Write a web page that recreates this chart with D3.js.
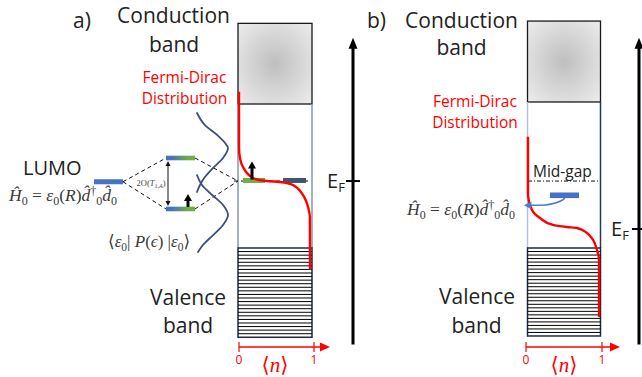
<!DOCTYPE html>
<html><head><meta charset="utf-8">
<script src="https://cdn.jsdelivr.net/npm/d3@7"></script>
<style>html,body{margin:0;padding:0;background:#fff;} svg{display:block;}</style>
</head><body>
<script>
// Energies are in units of the band gap: valence-band top = 0, conduction-band bottom = 1
const boxRangeA = [-0.62, 1.56];        // energy window of the band box, panel a
const boxRangeB = [-0.611, 1.576];      // energy window of the band box, panel b
const conductionBottom = [1, 1.014];    // conduction-band edge as drawn in a, b
const valenceTop = [0, 0];
const fermiLevel = [0.465, 0.132];      // E_F in panels a and b
const lumoLevel = 0.46;                 // bare LUMO, eps0(R)
const splitLevels = [0.625, 0.271];     // levels split by 2O(T_1,A)
const edgeLevelA = 0.469;               // pinned levels at E_F inside panel a
const midGapLevel = 0.465;
const defectLevelB = 0.366;
const energyAxisRange = [-0.67, 1.46];
const occupationTicks = [0, 1];
const valenceLineCount = 24;

// Fermi-Dirac occupation <n> against energy: [E, n]
const fermiCurveA = [[1.085, 0], [0.703, 0], [0.62, 0.015], [0.5625, 0.053], [0.486, 0.187],
  [0.465, 0.373], [0.458, 0.547], [0.4375, 0.72], [0.368, 0.853], [0.285, 0.92],
  [0.215, 0.945], [-0.153, 0.947]];
const fermiCurveB = [[0.773, 0.026], [0.382, 0.026], [0.264, 0.079], [0.208, 0.184],
  [0.16, 0.355], [0.146, 0.539], [0.139, 0.671], [0.104, 0.803], [0.056, 0.882],
  [-0.014, 0.934], [-0.083, 0.961], [-0.479, 0.961]];

// Projected density <eps0|P(eps)|eps0>, two lobes: [E, relative weight]
const lobeUpper = [[0.9375, 0.06], [0.854, 0.3], [0.785, 0.67], [0.729, 0.91], [0.694, 1],
  [0.625, 0.85], [0.556, 0.55], [0.493, 0.3], [0.4375, 0.15], [0.389, 0.06]];
const lobeLower = [[0.507, 0.06], [0.4375, 0.21], [0.368, 0.52], [0.299, 0.85], [0.229, 1],
  [0.16, 0.85], [0.09, 0.55], [0.021, 0.24], [-0.028, 0.09]];

const W = 642, H = 377;
const svg = d3.select("body").append("svg").attr("width", W).attr("height", H);
svg.append("rect").attr("width", W).attr("height", H).attr("fill", "#fff");

const yE = d3.scaleLinear().domain([0, 1]).range([248, 104]);
const xnA = d3.scaleLinear().domain([0, 1]).range([239, 314]);
const xnB = d3.scaleLinear().domain([0, 1]).range([526, 602]);
const xP = d3.scaleLinear().domain([0, 1]).range([195, 228]);

const SANS = "'Open Sans', 'Noto Sans', sans-serif";
const SERIF = "'Liberation Serif', 'DejaVu Serif', serif";
const INK = "#222";
const RED = "#ff0000";
const BLUE = "#4472c4";
const GREEN = "#70ad47";

const defs = svg.append("defs");
const rg = defs.append("radialGradient").attr("id", "cb").attr("cx", "50%").attr("cy", "50%").attr("r", "70%");
rg.append("stop").attr("offset", "0%").attr("stop-color", "#bfbfbf");
rg.append("stop").attr("offset", "100%").attr("stop-color", "#ececec");
const lg = defs.append("linearGradient").attr("id", "split").attr("x1", "0%").attr("x2", "100%");
lg.append("stop").attr("offset", "20%").attr("stop-color", BLUE);
lg.append("stop").attr("offset", "75%").attr("stop-color", GREEN);

// ---- band boxes ----
function bandBox(x0, x1, range, vb, cb, gapLeft, gapRight) {
  const g = svg.append("g");
  g.append("rect").attr("x", x0).attr("y", yE(range[1]))
    .attr("width", x1 - x0).attr("height", yE(cb) - yE(range[1]))
    .attr("fill", "url(#cb)").attr("stroke", "#1a1a1a").attr("stroke-width", 1.3);
  g.append("line").attr("x1", x0).attr("x2", x0).attr("y1", yE(cb)).attr("y2", yE(vb))
    .attr("stroke", gapLeft).attr("stroke-width", 1.5);
  g.append("line").attr("x1", x1).attr("x2", x1).attr("y1", yE(cb)).attr("y2", yE(vb))
    .attr("stroke", gapRight).attr("stroke-width", 1.5);
  const yt = yE(vb), yb = yE(range[0]);
  g.append("rect").attr("x", x0).attr("y", yt).attr("width", x1 - x0).attr("height", yb - yt)
    .attr("fill", "#fff").attr("stroke", "#1f2a44").attr("stroke-width", 1.5);
  const step = (yb - yt) / (valenceLineCount + 1);
  g.selectAll("line.vl").data(d3.range(1, valenceLineCount + 1)).join("line")
    .attr("x1", x0).attr("x2", x1)
    .attr("y1", i => yt + i * step).attr("y2", i => yt + i * step)
    .attr("stroke", "#000").attr("stroke-width", 1);
}
bandBox(238, 312, boxRangeA, valenceTop[0], conductionBottom[0], "#8497b0", "#8497b0");
bandBox(527.5, 600.5, boxRangeB, valenceTop[1], conductionBottom[1], "#b4c2d8", "#203864");

// ---- helpers ----
function text(x, y, str, opts = {}) {
  return svg.append("text").attr("x", x).attr("y", y).text(str)
    .attr("font-family", opts.family || SANS).attr("font-size", opts.size || 21)
    .attr("fill", opts.fill || INK).attr("text-anchor", opts.anchor || "start")
    .attr("font-style", opts.style || "normal");
}
function vArrow(x, yBase, yTip, shaft, headW, headL, color) {
  const dir = yTip < yBase ? 1 : -1;
  svg.append("line").attr("x1", x).attr("x2", x).attr("y1", yBase).attr("y2", yTip + dir * headL * 0.8)
    .attr("stroke", color).attr("stroke-width", shaft);
  svg.append("path").attr("d", `M${x},${yTip} L${x - headW / 2},${yTip + dir * headL} L${x + headW / 2},${yTip + dir * headL} Z`)
    .attr("fill", color);
}
function hArrowRight(x0, xTip, y, color) {
  svg.append("line").attr("x1", x0).attr("x2", xTip - 6).attr("y1", y).attr("y2", y)
    .attr("stroke", color).attr("stroke-width", 1.3);
  svg.append("path").attr("d", `M${xTip},${y} L${xTip - 10},${y - 4.5} L${xTip - 10},${y + 4.5} Z`).attr("fill", color);
}

// ---- panel a: level scheme ----
const dash = "4,3";
const lumoX = [94, 123], splitX = [166, 195], meetX = 238;
[splitLevels[0], splitLevels[1]].forEach(E => {
  svg.append("line").attr("x1", lumoX[1]).attr("y1", yE(lumoLevel)).attr("x2", splitX[0]).attr("y2", yE(E))
    .attr("stroke", "#111").attr("stroke-width", 1).attr("stroke-dasharray", dash);
  svg.append("line").attr("x1", splitX[1]).attr("y1", yE(E)).attr("x2", meetX).attr("y2", yE(fermiLevel[0]))
    .attr("stroke", "#111").attr("stroke-width", 1).attr("stroke-dasharray", dash);
});
svg.append("line").attr("x1", 234).attr("x2", 311).attr("y1", yE(fermiLevel[0])).attr("y2", yE(fermiLevel[0]))
  .attr("stroke", "#111").attr("stroke-width", 1).attr("stroke-dasharray", dash);

svg.append("rect").attr("x", lumoX[0]).attr("y", yE(lumoLevel) - 2.5).attr("width", lumoX[1] - lumoX[0]).attr("height", 5)
  .attr("fill", BLUE);
splitLevels.forEach(E => {
  svg.append("rect").attr("x", splitX[0]).attr("y", yE(E) - 2.3).attr("width", splitX[1] - splitX[0]).attr("height", 4.6)
    .attr("fill", "url(#split)");
});

// splitting double arrow and label
{
  const x = 168, yTop = yE(splitLevels[0]) + 3, yBot = yE(splitLevels[1]) - 3;
  svg.append("line").attr("x1", x).attr("x2", x).attr("y1", yTop + 4).attr("y2", yBot - 4)
    .attr("stroke", "#111").attr("stroke-width", 1);
  svg.append("path").attr("d", `M${x},${yTop} L${x - 2.5},${yTop + 5} L${x + 2.5},${yTop + 5} Z`).attr("fill", "#111");
  svg.append("path").attr("d", `M${x},${yBot} L${x - 2.5},${yBot - 5} L${x + 2.5},${yBot - 5} Z`).attr("fill", "#111");
  const t = svg.append("text").attr("x", 165.5).attr("y", 186).attr("text-anchor", "end")
    .attr("font-family", SERIF).attr("font-size", 8.5).attr("fill", "#444");
  t.append("tspan").text("2O(");
  t.append("tspan").attr("font-style", "italic").text("T");
  t.append("tspan").attr("font-size", 6).attr("dy", 2).text("1,");
  t.append("tspan").attr("font-size", 6).attr("font-style", "italic").text("A");
  t.append("tspan").attr("dy", -2).text(")");
}
vArrow(188, yE(splitLevels[1]) - 2, yE(splitLevels[1]) - 15, 3, 8, 7, "#000");

// projected density lobes
const lobeLine = d3.line().x(d => xP(d[1])).y(d => yE(d[0])).curve(d3.curveMonotoneY);
[lobeUpper, lobeLower].forEach(L => {
  svg.append("path").attr("d", lobeLine(L)).attr("fill", "none")
    .attr("stroke", "#3b5078").attr("stroke-width", 1.8).attr("stroke-linecap", "round");
});

// levels pinned at E_F inside the box
svg.append("rect").attr("x", 243).attr("y", yE(edgeLevelA) - 2.5).attr("width", 22).attr("height", 5).attr("fill", GREEN);
svg.append("rect").attr("x", 283).attr("y", yE(edgeLevelA) - 2.5).attr("width", 23).attr("height", 5).attr("fill", "#44546a");

// Fermi-Dirac occupation, panel a
const fdA = d3.line().x(d => xnA(d[1])).y(d => yE(d[0])).curve(d3.curveMonotoneY);
svg.append("path").attr("d", fdA(fermiCurveA)).attr("fill", "none").attr("stroke", RED).attr("stroke-width", 2.4);
vArrow(252, yE(edgeLevelA) - 1, yE(edgeLevelA) - 19, 3, 8, 7, "#000");

// ---- panel b ----
svg.append("line").attr("x1", 528).attr("x2", 600).attr("y1", yE(midGapLevel)).attr("y2", yE(midGapLevel))
  .attr("stroke", "#111").attr("stroke-width", 1).attr("stroke-dasharray", "4,2,1,2");
const fdB = d3.line().x(d => xnB(d[1])).y(d => yE(d[0])).curve(d3.curveMonotoneY);
svg.append("path").attr("d", fdB(fermiCurveB)).attr("fill", "none").attr("stroke", RED).attr("stroke-width", 2.4);
svg.append("rect").attr("x", 550).attr("y", yE(defectLevelB) - 2.8).attr("width", 29).attr("height", 5.6).attr("fill", BLUE);
{
  const y0 = yE(defectLevelB) + 2.8, yEnd = yE(defectLevelB) + 10;
  svg.append("path").attr("d", `M565,${y0} Q556,${y0 + 8} 531,${yEnd}`)
    .attr("fill", "none").attr("stroke", "#4a7ccc").attr("stroke-width", 1.5);
  svg.append("path").attr("d", `M524,${yEnd} L531.5,${yEnd - 3.8} L531,${yEnd + 3.6} Z`).attr("fill", "#4a7ccc");
}

// ---- energy axes with E_F ticks ----
[[353, fermiLevel[0], 327], [639, fermiLevel[1], 611]].forEach(([x, ef, lx]) => {
  vArrow(x, yE(energyAxisRange[0]), yE(energyAxisRange[1]), 3, 9, 11, "#000");
  svg.append("line").attr("x1", x - 7).attr("x2", x + 7).attr("y1", yE(ef)).attr("y2", yE(ef))
    .attr("stroke", "#000").attr("stroke-width", 2);
  const t = svg.append("text").attr("x", lx).attr("y", yE(ef) + 7).attr("font-family", SANS)
    .attr("font-size", 20).attr("fill", INK);
  t.append("tspan").text("E");
  t.append("tspan").attr("font-size", 13).attr("dy", 4).text("F");
});

// ---- occupation axes ----
[[xnA, 330, 275], [xnB, 620, 564]].forEach(([xn, tip, lblX]) => {
  const y = 347;
  hArrowRight(xn(0), tip, y, RED);
  occupationTicks.forEach(v => {
    svg.append("line").attr("x1", xn(v)).attr("x2", xn(v)).attr("y1", y - 5).attr("y2", y + 5)
      .attr("stroke", RED).attr("stroke-width", 1.2);
    text(xn(v), 364, String(v), { size: 12, fill: RED, anchor: "middle" });
  });
  const t = svg.append("text").attr("x", lblX).attr("y", 372).attr("text-anchor", "middle")
    .attr("font-family", SERIF).attr("font-size", 21).attr("fill", RED);
  t.append("tspan").text("\u27E8");
  t.append("tspan").attr("font-style", "italic").text("n");
  t.append("tspan").text("\u27E9");
});

// ---- labels ----
text(73, 28, "a)", { size: 21 });
text(367, 28, "b)", { size: 21 });
text(173.5, 23, "Conduction", { anchor: "middle" });
text(174, 51.5, "band", { anchor: "middle" });
text(461.5, 28, "Conduction", { anchor: "middle" });
text(461.5, 55, "band", { anchor: "middle" });
text(188, 305, "Valence", { anchor: "middle" });
text(188, 333, "band", { anchor: "middle" });
text(477, 304, "Valence", { anchor: "middle" });
text(476.5, 333, "band", { anchor: "middle" });
text(184.5, 83, "Fermi-Dirac", { size: 15.5, fill: RED, anchor: "middle" });
text(184.5, 104, "Distribution", { size: 15.5, fill: RED, anchor: "middle" });
text(475, 107, "Fermi-Dirac", { size: 15.5, fill: RED, anchor: "middle" });
text(475, 128, "Distribution", { size: 15.5, fill: RED, anchor: "middle" });
text(23, 175, "LUMO", { size: 20 });
text(533, 177, "Mid-gap", { size: 15.5 });

// Hamiltonian of the bare level
function hamiltonian(x, y) {
  const big = 17.5, small = 12;
  const t = svg.append("text").attr("x", x).attr("y", y).attr("font-family", SERIF)
    .attr("font-size", big).attr("fill", "#3a3a3a");
  t.append("tspan").attr("font-style", "italic").text("\u0124");
  t.append("tspan").attr("font-size", small).attr("dy", 3.5).text("0");
  t.append("tspan").attr("dy", -3.5).text(" = ");
  t.append("tspan").attr("font-style", "italic").text("\u03B5");
  t.append("tspan").attr("font-size", small).attr("dy", 3.5).text("0");
  t.append("tspan").attr("dy", -3.5).text("(");
  t.append("tspan").attr("font-style", "italic").text("R");
  t.append("tspan").text(")");
  t.append("tspan").attr("font-style", "italic").text("d\u0302");
  t.append("tspan").attr("font-size", small).attr("dy", -6).text("\u2020");
  t.append("tspan").attr("font-size", small).attr("dy", 9.5).text("0");
  t.append("tspan").attr("font-style", "italic").attr("dy", -3.5).text("d\u0302");
  t.append("tspan").attr("font-size", small).attr("dy", 3.5).text("0");
}
hamiltonian(9, 201);
hamiltonian(407, 215);

// projected density label
{
  const t = svg.append("text").attr("x", 108).attr("y", 247).attr("font-family", SERIF)
    .attr("font-size", 17).attr("fill", "#3a3a3a");
  t.append("tspan").text("\u27E8");
  t.append("tspan").attr("font-style", "italic").text("\u03B5");
  t.append("tspan").attr("font-size", 11.5).attr("dy", 3.5).text("0");
  t.append("tspan").attr("dy", -3.5).text("| ");
  t.append("tspan").attr("font-style", "italic").text("P");
  t.append("tspan").text("(");
  t.append("tspan").attr("font-style", "italic").text("\u03F5");
  t.append("tspan").text(") |");
  t.append("tspan").attr("font-style", "italic").text("\u03B5");
  t.append("tspan").attr("font-size", 11.5).attr("dy", 3.5).text("0");
  t.append("tspan").attr("dy", -3.5).text("\u27E9");
}
</script>
</body></html>
